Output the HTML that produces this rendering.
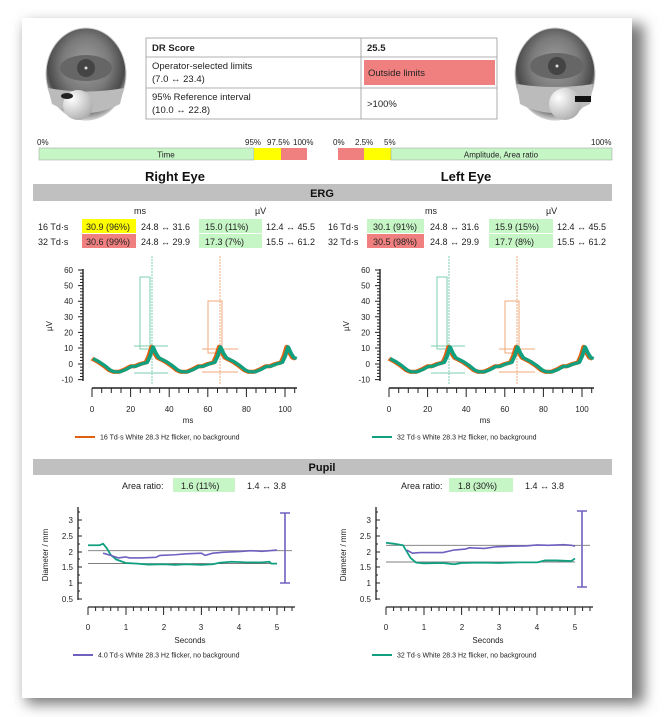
<!DOCTYPE html>
<html><head><meta charset="utf-8"><style>
html,body{margin:0;padding:0;background:#fff;}
svg{display:block;font-family:"Liberation Sans",sans-serif;}
</style></head><body>
<svg width="671" height="717" viewBox="0 0 671 717" xmlns="http://www.w3.org/2000/svg">
<defs>
<filter id="sh" x="-10%" y="-10%" width="120%" height="120%"><feGaussianBlur stdDeviation="7"/></filter>
<radialGradient id="eye" cx="50%" cy="40%" r="60%"><stop offset="0" stop-color="#a0a0a0"/><stop offset="0.5" stop-color="#7a7a7a"/><stop offset="0.8" stop-color="#4a4a4a"/><stop offset="1" stop-color="#d0d0d0"/></radialGradient>
<radialGradient id="ball" cx="30%" cy="30%" r="80%"><stop offset="0" stop-color="#fff"/><stop offset="1" stop-color="#aaa"/></radialGradient>
<path id="wave" d="M0 3.5L3 1.5L6 -1L9 -4L11 -5L14 -5L17 -3.5L20 -1.5L22 -1.5L25 0L28 1L29.5 5L31 11L32.5 7L34 4L38 1.5L41 -1L44 -4L46 -5L49 -5L52 -3.5L55 -1.5L57 -1.5L60 0L63 1L64.5 5L66 11L67.5 7L69 4L73 1.5L76 -1L79 -4L81 -5L84 -5L87 -3.5L90 -1.5L92 -1.5L95 0L98 1L99.5 5L101 11L102.5 7L104 4L105.5 3.5"/>
</defs>
<rect x="26" y="24" width="618" height="680" fill="#777" filter="url(#sh)"/>
<rect x="22" y="18" width="610" height="680" fill="#fff"/>

<g>
<ellipse cx="86" cy="74" rx="40" ry="46" fill="url(#eye)" stroke="#ccc"/>
<ellipse cx="86" cy="68" rx="26" ry="13" fill="#666"/><circle cx="86" cy="68" r="9" fill="#444"/><circle cx="86" cy="68" r="1.5" fill="#ddd"/>
<path d="M48 88 Q86 95 124 88 L120 104 Q86 122 52 104Z" fill="#bbb"/>
<circle cx="78" cy="105" r="15" fill="url(#ball)"/>
<ellipse cx="67" cy="96" rx="6" ry="3" fill="#222"/>
</g>
<g>
<ellipse cx="555" cy="74" rx="40" ry="46" fill="url(#eye)" stroke="#ccc"/>
<ellipse cx="557" cy="66" rx="27" ry="13" fill="#666"/><circle cx="557" cy="66" r="9" fill="#444"/><circle cx="557" cy="66" r="1.5" fill="#ddd"/>
<path d="M517 84 Q555 90 593 84 L590 104 Q555 122 520 104Z" fill="#bbb"/>
<circle cx="565" cy="104" r="16" fill="url(#ball)"/>
<rect x="575" y="96" width="16" height="6" fill="#111"/>
</g>

<g font-size="9.5" fill="#222">
<rect x="146" y="38" width="351" height="81" fill="#fff" stroke="#999" stroke-width="0.8"/>
<line x1="146" y1="57" x2="497" y2="57" stroke="#999" stroke-width="0.8"/>
<line x1="146" y1="88" x2="497" y2="88" stroke="#999" stroke-width="0.8"/>
<line x1="361" y1="38" x2="361" y2="119" stroke="#999" stroke-width="0.8"/>
<rect x="364" y="60" width="131" height="25" fill="#f08080"/>
<text x="152" y="51" font-weight="bold">DR Score</text>
<text x="367" y="51" font-weight="bold">25.5</text>
<text x="152" y="69">Operator-selected limits</text>
<text x="152" y="82">(7.0 ↔ 23.4)</text>
<text x="368" y="76">Outside limits</text>
<text x="152" y="100">95% Reference interval</text>
<text x="152" y="113">(10.0 ↔ 22.8)</text>
<text x="367" y="107">&gt;100%</text>
</g>

<g font-size="8" fill="#222">
<text x="37" y="145">0%</text><text x="245" y="145">95%</text><text x="267" y="145">97.5%</text><text x="293" y="145">100%</text>
<rect x="39" y="148" width="215" height="12" fill="#c6f5c6" stroke="#999" stroke-width="0.5"/>
<rect x="254" y="148" width="27" height="12" fill="#ffff00"/>
<rect x="281" y="148" width="26" height="12" fill="#f08080"/>
<text x="166" y="157.5" text-anchor="middle">Time</text>
<text x="333" y="145">0%</text><text x="355" y="145">2.5%</text><text x="384" y="145">5%</text><text x="591" y="145">100%</text>
<rect x="338" y="148" width="26" height="12" fill="#f08080"/>
<rect x="364" y="148" width="27" height="12" fill="#ffff00"/>
<rect x="391" y="148" width="221" height="12" fill="#c6f5c6" stroke="#999" stroke-width="0.5"/>
<text x="501" y="157.5" text-anchor="middle">Amplitude, Area ratio</text>
</g>

<text x="175" y="181" font-size="13" font-weight="bold" text-anchor="middle" fill="#111">Right Eye</text>
<text x="466" y="181" font-size="13" font-weight="bold" text-anchor="middle" fill="#111">Left Eye</text>

<rect x="33" y="184" width="579" height="17" fill="#c0c0c0"/>
<text x="322" y="197" font-size="11" font-weight="bold" text-anchor="middle" fill="#111">ERG</text>

<g font-size="9" fill="#222">
<text x="134" y="214">ms</text><text x="255" y="214">µV</text>
<text x="425" y="214">ms</text><text x="546" y="214">µV</text>
<rect x="82" y="219" width="54" height="14" fill="#ffff00"/>
<rect x="199" y="219" width="63" height="14" fill="#c6f5c6"/>
<rect x="82" y="234" width="54" height="14" fill="#f08080"/>
<rect x="199" y="234" width="63" height="14" fill="#c6f5c6"/>
<rect x="367" y="219" width="57" height="14" fill="#c6f5c6"/>
<rect x="489" y="219" width="64" height="14" fill="#c6f5c6"/>
<rect x="367" y="234" width="57" height="14" fill="#f08080"/>
<rect x="489" y="234" width="64" height="14" fill="#c6f5c6"/>
<text x="38" y="230">16 Td·s</text><text x="86" y="230">30.9 (96%)</text><text x="141" y="230">24.8 ↔ 31.6</text><text x="205" y="230">15.0 (11%)</text><text x="266" y="230">12.4 ↔ 45.5</text>
<text x="38" y="245">32 Td·s</text><text x="86" y="245">30.6 (99%)</text><text x="141" y="245">24.8 ↔ 29.9</text><text x="205" y="245">17.3 (7%)</text><text x="266" y="245">15.5 ↔ 61.2</text>
<text x="328" y="230">16 Td·s</text><text x="373" y="230">30.1 (91%)</text><text x="430" y="230">24.8 ↔ 31.6</text><text x="495" y="230">15.9 (15%)</text><text x="557" y="230">12.4 ↔ 45.5</text>
<text x="328" y="245">32 Td·s</text><text x="373" y="245">30.5 (98%)</text><text x="430" y="245">24.8 ↔ 29.9</text><text x="495" y="245">17.7 (8%)</text><text x="557" y="245">15.5 ↔ 61.2</text>
</g>

<g id="erg1">
<g stroke="#222" stroke-width="1.4">
<line x1="83" y1="269" x2="83" y2="381"/>
<line x1="92" y1="388" x2="297" y2="388"/>
</g>
<g stroke="#222" stroke-width="1">
<path d="M83 270h-5M83 285.6h-5M83 301.2h-5M83 316.8h-5M83 332.4h-5M83 348h-5M83 364h-5M83 379.6h-5"/>
<path d="M83 273.1h-3M83 276.2h-3M83 279.4h-3M83 282.5h-3M83 288.7h-3M83 291.8h-3M83 295h-3M83 298.1h-3M83 304.3h-3M83 307.4h-3M83 310.6h-3M83 313.7h-3M83 319.9h-3M83 323h-3M83 326.2h-3M83 329.3h-3M83 335.5h-3M83 338.6h-3M83 341.8h-3M83 344.9h-3M83 351.1h-3M83 354.2h-3M83 357.4h-3M83 360.5h-3M83 367.1h-3M83 370.2h-3M83 373.4h-3M83 376.5h-3"/>
<path d="M92 388v9M101.7 388v5M111.3 388v5M121 388v5M130.6 388v9M140.3 388v5M150 388v5M159.6 388v5M169.2 388v9M179 388v5M188.5 388v5M198 388v5M207.8 388v9M217.5 388v5M227 388v5M236.8 388v5M246.4 388v9M256 388v5M265.7 388v5M275.4 388v5M285 388v9M294.7 388v5"/>
</g>
<g font-size="8" fill="#222" text-anchor="end">
<text x="73" y="273">60</text><text x="73" y="288.6">50</text><text x="73" y="304.2">40</text><text x="73" y="319.8">30</text><text x="73" y="335.4">20</text><text x="73" y="351">10</text><text x="73" y="367">0</text><text x="73" y="382.6">-10</text>
</g>
<g font-size="8" fill="#222" text-anchor="middle">
<text x="92" y="412">0</text><text x="130.6" y="412">20</text><text x="169.2" y="412">40</text><text x="207.8" y="412">60</text><text x="246.4" y="412">80</text><text x="285" y="412">100</text>
<text x="188" y="423">ms</text>
</g>
</g>
<use href="#erg1" x="297"/>
<text x="52" y="326" font-size="8" fill="#222" transform="rotate(-90 52 326)" text-anchor="middle">µV</text>
<text x="349" y="326" font-size="8" fill="#222" transform="rotate(-90 349 326)" text-anchor="middle">µV</text>

<g id="ergdata">
<g fill="none" stroke-width="1">
<rect x="140" y="277" width="10" height="72" stroke="#7fcfb0"/>
<line x1="152" y1="256" x2="152" y2="384" stroke="#7fcfb0" stroke-dasharray="2,1"/>
<line x1="134" y1="346" x2="168" y2="346" stroke="#7fcfb0"/>
<line x1="134" y1="373" x2="168" y2="373" stroke="#7fcfb0"/>
<rect x="208" y="301" width="14" height="52" stroke="#f0a878"/>
<line x1="220" y1="256" x2="220" y2="384" stroke="#f0a878" stroke-dasharray="2,1"/>
<line x1="202" y1="349" x2="238" y2="349" stroke="#f0a878"/>
<line x1="202" y1="372" x2="238" y2="372" stroke="#f0a878"/>
</g>
<g transform="translate(92 364) scale(1.93 -1.56)" fill="none" stroke-linejoin="round">
<use href="#wave" stroke="#e06010" stroke-width="2.6" style="vector-effect:non-scaling-stroke"/>
<use href="#wave" x="0.6" stroke="#10a080" stroke-width="2" style="vector-effect:non-scaling-stroke"/>
</g>
</g>
<use href="#ergdata" x="297"/>

<g font-size="7" fill="#222">
<line x1="75" y1="437" x2="95" y2="437" stroke="#e06010" stroke-width="2"/>
<text x="100" y="439.5">16 Td·s White 28.3 Hz flicker, no background</text>
<line x1="372" y1="437" x2="392" y2="437" stroke="#10a080" stroke-width="2"/>
<text x="397" y="439.5">32 Td·s White 28.3 Hz flicker, no background</text>
</g>

<rect x="33" y="459" width="579" height="16" fill="#c0c0c0"/>
<text x="322" y="471" font-size="11" font-weight="bold" text-anchor="middle" fill="#111">Pupil</text>
<g font-size="9" fill="#222">
<text x="122" y="489">Area ratio:</text>
<rect x="173" y="478" width="62" height="14" fill="#c6f5c6"/>
<text x="181" y="489">1.6 (11%)</text>
<text x="247" y="489">1.4 ↔ 3.8</text>
<text x="401" y="489">Area ratio:</text>
<rect x="449" y="478" width="64" height="14" fill="#c6f5c6"/>
<text x="458" y="489">1.8 (30%)</text>
<text x="525" y="489">1.4 ↔ 3.8</text>
</g>

<g id="pax">
<g stroke="#222" stroke-width="1.3">
<line x1="78" y1="507" x2="78" y2="600"/>
<line x1="88" y1="607" x2="295" y2="607"/>
</g>
<g stroke="#222" stroke-width="1">
<path d="M78 520h4M78 528h2M78 536h4M78 544h2M78 552h4M78 559h2M78 567h4M78 575h2M78 583h4M78 591h2M78 599h4M78 512h2"/>
<path d="M88 607v8M95.6 607v4M103 607v4M110.7 607v4M118 607v4M126 607v8M133.4 607v4M141 607v4M148.5 607v4M156 607v4M163.6 607v8M171 607v4M178.8 607v4M186 607v4M194 607v4M201.4 607v8M209 607v4M216.5 607v4M224 607v4M231.7 607v4M239 607v8M246.8 607v4M254 607v4M262 607v4M269.5 607v4M277 607v8M284.6 607v4M292 607v4"/>
</g>
<g font-size="8" fill="#222" text-anchor="end">
<text x="73" y="523">3</text><text x="73" y="539">2.5</text><text x="73" y="555">2</text><text x="73" y="570">1.5</text><text x="73" y="586">1</text><text x="73" y="602">0.5</text>
</g>
<g font-size="8" fill="#222" text-anchor="middle">
<text x="88" y="630">0</text><text x="126" y="630">1</text><text x="164" y="630">2</text><text x="201" y="630">3</text><text x="239" y="630">4</text><text x="277" y="630">5</text>
<text x="190" y="643">Seconds</text>
</g>
</g>
<use href="#pax" x="298"/>
<text x="48" y="555" font-size="8" fill="#222" transform="rotate(-90 48 555)" text-anchor="middle">Diameter / mm</text>
<text x="346" y="555" font-size="8" fill="#222" transform="rotate(-90 346 555)" text-anchor="middle">Diameter / mm</text>

<g fill="none">
<line x1="88" y1="550.7" x2="292" y2="550.7" stroke="#777" stroke-width="0.8"/>
<line x1="88" y1="563.6" x2="277" y2="563.6" stroke="#555" stroke-width="0.8"/>
<g transform="translate(88 614.8) scale(37.8 -31.6)" stroke-linejoin="round">
<path d="M0 2.2L0.3 2.2L0.4 2.25L0.5 2.1L0.6 1.9L0.75 1.75L1 1.64L1.3 1.62L1.6 1.59L2 1.6L2.3 1.58L2.6 1.6L3 1.58L3.3 1.6L3.5 1.65L3.8 1.68L4.2 1.66L4.6 1.66L4.8 1.68L4.85 1.62L5 1.62" stroke="#10a080" stroke-width="1.8" style="vector-effect:non-scaling-stroke"/>
<path d="M0.4 1.95L0.6 1.88L0.8 1.8L1 1.83L1.1 1.8L1.4 1.8L1.8 1.82L1.9 1.88L2.3 1.9L2.6 1.93L3 1.95L3.1 1.88L3.3 1.95L3.6 1.98L4 2.0L4.3 2.03L4.6 2.01L5 2.05" stroke="#7060c0" stroke-width="1.6" style="vector-effect:non-scaling-stroke"/>
</g>
<path d="M280 513h10M285 513v70M280 583h10" stroke="#7060c0" stroke-width="1.6"/>
</g>
<g fill="none">
<line x1="386" y1="545.3" x2="590" y2="545.3" stroke="#777" stroke-width="0.8"/>
<line x1="386" y1="562" x2="575" y2="562" stroke="#555" stroke-width="0.8"/>
<g transform="translate(386 614.8) scale(37.8 -31.6)" stroke-linejoin="round">
<path d="M0 2.28L0.2 2.25L0.45 2.2L0.55 2.0L0.65 1.8L0.8 1.65L1 1.63L1.5 1.64L1.8 1.6L2 1.64L2.5 1.65L3 1.64L3.5 1.66L4 1.66L4.2 1.72L4.5 1.72L4.9 1.7L5 1.78" stroke="#10a080" stroke-width="1.8" style="vector-effect:non-scaling-stroke"/>
<path d="M0.55 2.05L0.7 1.95L0.9 1.97L1.5 1.97L1.8 2.05L2.1 2.08L2.2 2.12L2.6 2.1L2.9 2.15L3.3 2.17L3.7 2.18L4 2.21L4.3 2.2L4.7 2.22L4.9 2.2L5 2.17" stroke="#7060c0" stroke-width="1.6" style="vector-effect:non-scaling-stroke"/>
</g>
<path d="M577 511h10M582 511v76M577 587h10" stroke="#7060c0" stroke-width="1.6"/>
</g>

<g font-size="7" fill="#222">
<line x1="73" y1="655" x2="93" y2="655" stroke="#7060c0" stroke-width="2"/>
<text x="98" y="657.5">4.0 Td·s White 28.3 Hz flicker, no background</text>
<line x1="372" y1="655" x2="392" y2="655" stroke="#10a080" stroke-width="2"/>
<text x="397" y="657.5">32 Td·s White 28.3 Hz flicker, no background</text>
</g>
</svg>
</body></html>
